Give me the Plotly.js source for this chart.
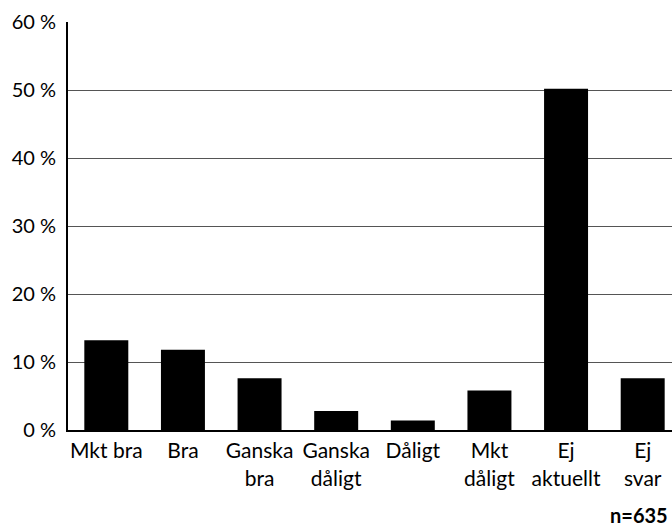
<!DOCTYPE html>
<html>
<head>
<meta charset="utf-8">
<script src="https://cdn.plot.ly/plotly-3.0.1.min.js"></script>
<style>html,body{margin:0;padding:0;overflow:hidden;background:#fff;}</style>
</head>
<body>
<div id="chart"></div>
<script>
const categories = ["Mkt bra", "Bra", "Ganska<br>bra", "Ganska<br>dåligt", "Dåligt", "Mkt<br>dåligt", "Ej<br>aktuellt", "Ej<br>svar"];
const values = [13.2, 11.8, 7.6, 2.8, 1.4, 5.8, 50.2, 7.6];
const yTickVals = [0, 10, 20, 30, 40, 50, 60];
const yTickText = ["0 %", "10 %", "20 %", "30 %", "40 %", "50 %", "60 %"];
const nLabel = "n=635";

const font = "Lato, 'Open Sans', sans-serif";
Plotly.newPlot("chart", [{
  type: "bar",
  x: categories,
  y: values,
  marker: {color: "#000000"},
  hoverinfo: "skip"
}], {
  width: 690,
  height: 526,
  margin: {l: 68, r: 9, t: 22, b: 96},
  paper_bgcolor: "#ffffff",
  plot_bgcolor: "#ffffff",
  bargap: 0.426,
  showlegend: false,
  font: {family: font, size: 20, color: "#000"},
  xaxis: {
    type: "category",
    range: [-0.5, 7.5],
    showline: true, linecolor: "#000", linewidth: 2,
    showgrid: false, ticks: "", zeroline: false,
    tickfont: {family: font, size: 21, color: "#000"},
    ticklabelstandoff: 1
  },
  yaxis: {
    range: [0, 60],
    tickvals: yTickVals, ticktext: yTickText,
    showline: true, linecolor: "#000", linewidth: 2,
    showgrid: true, gridcolor: "#555", gridwidth: 1,
    zeroline: false, ticks: "",
    tickfont: {family: font, size: 20, color: "#000"},
    ticklabelstandoff: 6
  },
  annotations: [{
    xref: "paper", yref: "paper", x: 540/613, y: -85/408,
    xanchor: "left", yanchor: "middle", showarrow: false,
    text: "<b>" + nLabel + "</b>",
    font: {family: font, size: 20, color: "#000"}
  }]
}, {staticPlot: true});
</script>
</body>
</html>
